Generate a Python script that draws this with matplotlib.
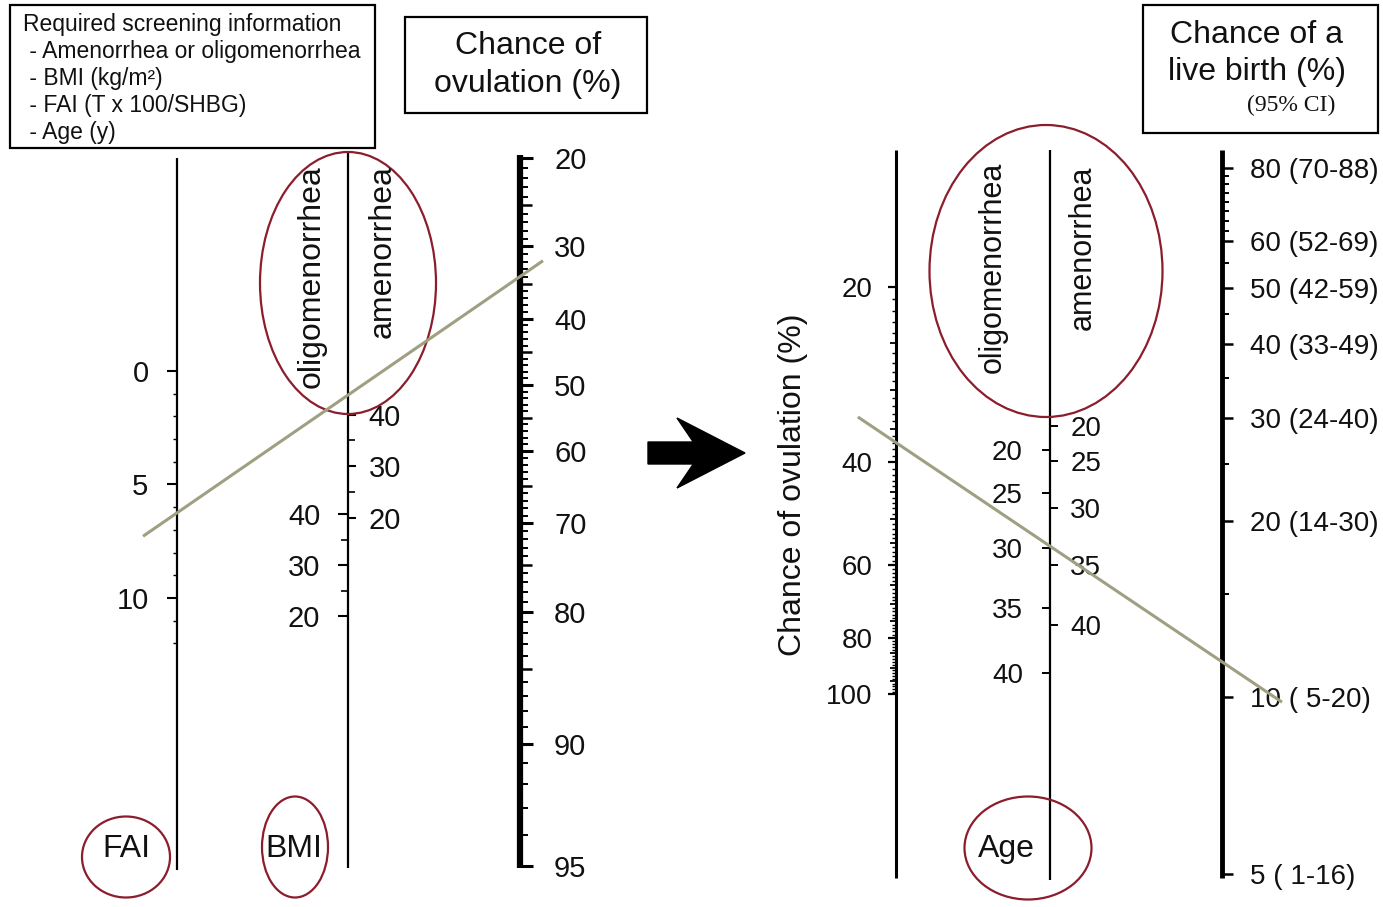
import numpy as np
import matplotlib
matplotlib.use("Agg")
import matplotlib.pyplot as plt
from matplotlib.patches import Rectangle, Ellipse, FancyArrow
from matplotlib.ticker import NullFormatter, NullLocator

plt.rcParams['font.family'] = ['Liberation Sans', 'DejaVu Sans']

W, H = 1383, 907

# ---- nomogram 1: FAI, BMI -> chance of ovulation ----
fai_labels = [0, 5, 10]
fai_minor = [1, 2, 3, 4, 6, 7, 8, 9, 11, 12]
fai_lim = (21.98, -9.38)          # value at bottom / top of the line

bmi_oligo_labels = [20, 30, 40]
bmi_oligo_minor = [25, 35]
bmi_oligo_lim = (-29.4, 111.0)
bmi_amen_labels = [20, 30, 40]
bmi_amen_minor = [25, 35]
bmi_amen_lim = (-48.0, 91.0)

ovul_labels = [20, 30, 40, 50, 60, 70, 80, 90, 95]
ovul_mid = [25, 35, 45, 55, 65, 75, 85]
ovul_minor = [v for v in range(21, 95) if v % 5 != 0]
ovul_lim = (95.05, 19.67)

# ---- nomogram 2: chance of ovulation, age -> live birth ----
ovul2_labels = [20, 40, 60, 80, 100]
ovul2_mid = [25, 30, 35, 45, 50, 55, 65, 70, 75, 85, 90, 95]
ovul2_minor = [v for v in range(21, 100) if v % 5 != 0]
ovul2_lim = (206.8, 11.64)

age_vals = [20, 25, 30, 35, 40]
age_oligo_pts = [41.1, 47.0, 54.5, 62.7, 71.6]   # nomogram points (0 top .. 100 bottom)
age_amen_pts = [37.8, 42.6, 49.0, 56.8, 65.1]
age_lim = (100, 0)

lb_vals = [80, 60, 50, 40, 30, 20, 10, 5]
lb_ci = ['70-88', '52-69', '42-59', '33-49', '24-40', '14-30', ' 5-20', ' 1-16']
lb_minor = [15, 25, 35, 45, 55, 62.5, 65, 67.5, 70, 72.5, 75, 77.5]
lb_lim = (4.92, 85.85)

# example readings drawn across the scales
iso1 = (6.25, 34.0)   # FAI, chance of ovulation
iso2 = (37.0, 11.5)   # chance of ovulation, live birth

screening = ['Required screening information',
             ' - Amenorrhea or oligomenorrhea',
             ' - BMI (kg/m\u00b2)',
             ' - FAI (T x 100/SHBG)',
             ' - Age (y)']

TXT = '#111111'
RED = '#8b1d2c'
ISO = '#a19f82'


def logit_pct(p):
    p = np.clip(p, 1e-6, 100 - 1e-6)
    return np.log(p / (100 - p))


def expit_pct(z):
    return 100 / (1 + np.exp(-z))


fig = plt.figure(figsize=(W / 100, H / 100), dpi=100)


def scale_axes(x, y0, y1, side, lim, scale=None, spine_lw=1.5, show_spine=True):
    w = 1.0 / W
    left = x / W if side == 'left' else x / W - w
    ax = fig.add_axes([left, 1 - y1 / H, w, (y1 - y0) / H])
    ax.patch.set_visible(False)
    for name, sp in ax.spines.items():
        sp.set_visible(name == side and show_spine)
    ax.spines[side].set_linewidth(spine_lw)
    ax.spines[side].set_capstyle('butt')
    ax.xaxis.set_visible(False)
    ax.yaxis.set_ticks_position(side)
    if scale == 'logit':
        ax.set_yscale('function', functions=(logit_pct, expit_pct))
    elif scale == 'log':
        ax.set_yscale('log')
    ax.set_ylim(*lim)
    ax.yaxis.set_minor_locator(NullLocator())
    ax.yaxis.set_minor_formatter(NullFormatter())
    return ax


def put_ticks(ax, vals, labels, length, width, size=20, pad=8, minor=False):
    if labels is None:
        labels = [''] * len(vals)
    ax.set_yticks(vals, labels=labels, minor=minor)
    ax.tick_params(axis='y', which='minor' if minor else 'major', length=length,
                   width=width, labelsize=size, pad=pad, direction='out',
                   colors='black', labelcolor=TXT)


# FAI
ax_fai = scale_axes(177, 158, 870, 'left', fai_lim, spine_lw=1.6)
put_ticks(ax_fai, fai_labels, [str(v) for v in fai_labels], 7, 1.5, 21, 13.5)
put_ticks(ax_fai, fai_minor, None, 3, 1.0, minor=True)

# BMI
ax_bo = scale_axes(348, 152, 868, 'left', bmi_oligo_lim, spine_lw=1.6)
put_ticks(ax_bo, bmi_oligo_labels, [str(v) for v in bmi_oligo_labels], 7, 1.5, 21, 13)
put_ticks(ax_bo, bmi_oligo_minor, None, 5, 1.2, minor=True)
ax_ba = scale_axes(348, 152, 868, 'right', bmi_amen_lim, show_spine=False)
put_ticks(ax_ba, bmi_amen_labels, [str(v) for v in bmi_amen_labels], 6, 1.5, 21, 9)
put_ticks(ax_ba, bmi_amen_minor, None, 5, 1.2, minor=True)

# chance of ovulation (left nomogram)
ax_ov = scale_axes(520, 155, 868, 'right', ovul_lim, 'logit', spine_lw=4.5)
put_ticks(ax_ov, ovul_labels, [str(v) for v in ovul_labels], 9.5, 2.2, 21, 15)
put_ticks(ax_ov, ovul_minor, None, 6, 1.4, minor=True)
ax_ov_mid = scale_axes(520, 155, 868, 'right', ovul_lim, 'logit', show_spine=False)
put_ticks(ax_ov_mid, ovul_mid, None, 8.5, 1.8)

# chance of ovulation (right nomogram)
ax_ov2 = scale_axes(896, 150, 878, 'left', ovul2_lim, 'log', spine_lw=2.2)
put_ticks(ax_ov2, ovul2_labels, [str(v) for v in ovul2_labels], 6, 1.6, 20, 11)
put_ticks(ax_ov2, ovul2_minor, None, 3, 1.0, minor=True)
ax_ov2_mid = scale_axes(896, 150, 878, 'left', ovul2_lim, 'log', show_spine=False)
put_ticks(ax_ov2_mid, ovul2_mid, None, 4.5, 1.3)

# age
ax_ao = scale_axes(1050, 150, 880, 'left', age_lim, spine_lw=1.6)
put_ticks(ax_ao, age_oligo_pts, [str(v) for v in age_vals], 6, 1.4, 20, 13.5)
ax_aa = scale_axes(1050, 150, 880, 'right', age_lim, show_spine=False)
put_ticks(ax_aa, age_amen_pts, [str(v) for v in age_vals], 6, 1.4, 20, 8.5)

# live birth
ax_lb = scale_axes(1222, 150, 878, 'right', lb_lim, 'log', spine_lw=3.5)
put_ticks(ax_lb, lb_vals, [f'{v} ({c})' for v, c in zip(lb_vals, lb_ci)], 8, 1.8, 20, 12)
put_ticks(ax_lb, lb_minor, None, 5, 1.4, minor=True)

# ---- overlay with boxes, labels, circles, arrow, isopleths ----
cv = fig.add_axes([0, 0, 1, 1])
cv.set_xlim(0, W)
cv.set_ylim(H, 0)
cv.axis('off')

cv.add_patch(Rectangle((10, 5), 365, 143, fill=False, lw=1.6, ec='black'))
for i, line in enumerate(screening):
    cv.text(23, 25 + 26.8 * i, line, fontsize=16.5, color=TXT, ha='left', va='center')

cv.add_patch(Rectangle((405, 17), 242, 96, fill=False, lw=1.6, ec='black'))
cv.text(528, 46, 'Chance of', fontsize=23, color=TXT, ha='center', va='center')
cv.text(528, 84, 'ovulation (%)', fontsize=23, color=TXT, ha='center', va='center')

cv.add_patch(Rectangle((1143, 5), 235, 128, fill=False, lw=1.6, ec='black'))
cv.text(1257, 35, 'Chance of a', fontsize=23, color=TXT, ha='center', va='center')
cv.text(1257, 72, 'live birth (%)', fontsize=23, color=TXT, ha='center', va='center')
cv.text(1291, 105, '(95% CI)', fontsize=17, color=TXT, ha='center', va='center',
        family='Liberation Serif')

for x, y, s, fs in [(312, 165, 'oligomenorrhea', 23), (383, 165, 'amenorrhea', 23),
                    (993, 162, 'oligomenorrhea', 22), (1083, 165, 'amenorrhea', 22)]:
    cv.text(x, y, s, rotation=90, fontsize=fs, color=TXT, ha='center', va='top')

cv.text(793, 485, 'Chance of ovulation (%)', rotation=90, fontsize=23, color=TXT,
        ha='center', va='center')

for x, s in [(126, 'FAI'), (294, 'BMI'), (1006, 'Age')]:
    cv.text(x, 849, s, fontsize=23, color=TXT, ha='center', va='center')

for cx, cy, ew, eh in [(348, 283, 176, 262), (1046, 271, 233, 292),
                       (126, 857, 88, 81), (295, 847, 66, 101), (1028, 848, 127, 103)]:
    cv.add_patch(Ellipse((cx, cy), ew, eh, fill=False, ec=RED, lw=1.6))

cv.add_patch(FancyArrow(648, 453, 97, 0, width=22, head_width=70, head_length=68,
                        overhang=0.24, length_includes_head=True, color='black'))


def spine_point(ax, side, val):
    xa = 0 if side == 'left' else 1
    disp = ax.get_yaxis_transform().transform((xa, val))
    return cv.transData.inverted().transform(disp)


def isopleth(p, q, t0, t1):
    t = np.array([t0, t1])
    pts = p[None, :] + t[:, None] * (q - p)[None, :]
    cv.plot(pts[:, 0], pts[:, 1], color=ISO, lw=2.2, solid_capstyle='butt')


isopleth(spine_point(ax_fai, 'left', iso1[0]), spine_point(ax_ov, 'right', iso1[1]), -0.099, 1.067)
isopleth(spine_point(ax_ov2, 'left', iso2[0]), spine_point(ax_lb, 'right', iso2[1]), -0.117, 1.184)

fig.savefig('out.png', dpi=100)
